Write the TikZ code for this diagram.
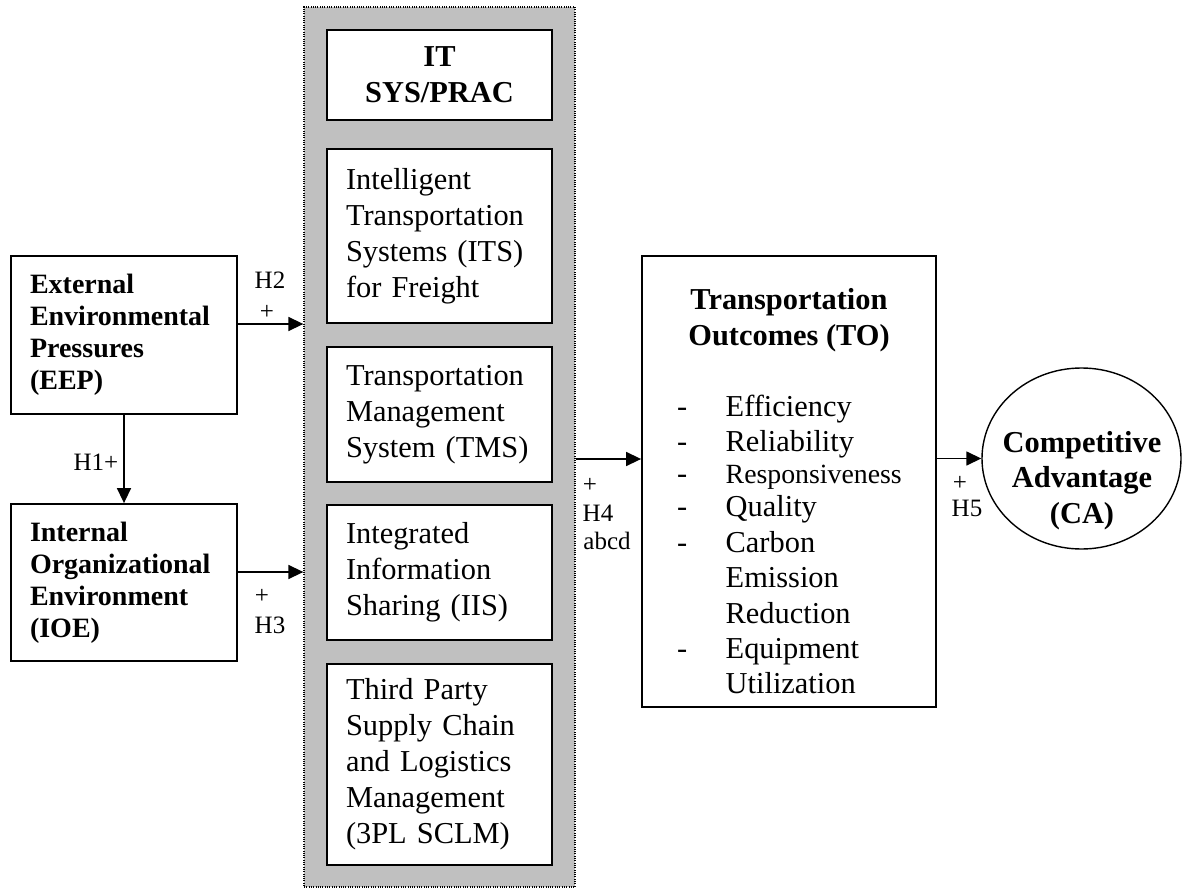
\documentclass[tikz,border=0pt]{standalone}
\usepackage{fontspec}
\setmainfont{Liberation Serif}
\usetikzlibrary{arrows.meta,shapes.geometric}
\definecolor{panelgray}{RGB}{192,192,192}
\begin{document}
\begin{tikzpicture}[x=1pt,y=-1pt,
  box/.style={draw,line width=1.8pt,fill=white,inner sep=0pt},
  hfont/.style={font=\fontsize{28}{32}\selectfont\bfseries},
  tfont/.style={font=\fontsize{30.4}{36}\selectfont},
  bigbold/.style={font=\fontsize{30.4}{36}\selectfont\bfseries},
  lab/.style={font=\fontsize{25}{29}\selectfont,inner sep=0pt,anchor=base},
  item/.style={font=\fontsize{30.4}{35}\selectfont,inner sep=0pt,anchor=base west},
  arr/.style={line width=1.5pt,-{Triangle[length=15pt,width=14pt]}},
]
\useasboundingbox (0,0) rectangle (1183,888);

% grey panel holding the IT systems and practices
\node[draw,fill=panelgray,line width=1.3pt,dash pattern=on 1pt off 1.3pt,
      minimum width=271pt,minimum height=880pt,inner sep=0pt] (panel) at (439.5,447) {};

\node[box,bigbold,minimum width=225pt,minimum height=90pt,text width=187pt,align=center]
  (it) at (439.5,75) {IT\\SYS/PRAC};
\node[box,tfont,minimum width=225pt,minimum height=174pt,text width=187pt,align=left]
  (its) at (439.5,236) {Intelligent\\Transportation\\Systems (ITS)\\for Freight};
\node[box,tfont,minimum width=225pt,minimum height=135pt,text width=187pt,align=left]
  (tms) at (439.5,414.5) {Transportation\\Management\\System (TMS)};
\node[box,tfont,minimum width=225pt,minimum height=135pt,text width=187pt,align=left]
  (iis) at (439.5,572.5) {Integrated\\Information\\Sharing (IIS)};
\node[box,tfont,minimum width=225pt,minimum height=201pt,text width=187pt,align=left]
  (tpl) at (439.5,764.5) {Third Party\\Supply Chain\\and Logistics\\Management\\(3PL SCLM)};

% environment boxes
\node[box,hfont,minimum width=226pt,minimum height=158pt,text width=188pt,align=left]
  (eep) at (124,335) {External\\Environmental\\Pressures\\(EEP)};
\node[box,hfont,minimum width=226pt,minimum height=157pt,text width=188pt,align=left]
  (ioe) at (124,582.5) {Internal\\Organizational\\Environment\\(IOE)};

% outcomes box
\node[box,minimum width=294pt,minimum height=451pt] (to) at (789,481.5) {};
\node[bigbold,anchor=base,inner sep=0pt] (tot1) at (789,309) {Transportation};
\node[bigbold,anchor=base,inner sep=0pt] (tot2) at (789,345) {Outcomes (TO)};

\node[item] (d1) at (677,416) {-};
\node[item] (i1) at (725.5,416) {Efficiency};
\node[item] (d2) at (677,451) {-};
\node[item] (i2) at (725.5,451) {Reliability};
\node[item] (d3) at (677,483) {-};
\node[item,font=\fontsize{27.8}{32}\selectfont] (i3) at (725.5,483) {Responsiveness};
\node[item] (d4) at (677,516) {-};
\node[item] (i4) at (725.5,516) {Quality};
\node[item] (d5) at (677,552) {-};
\node[item] (i5) at (725.5,552) {Carbon};
\node[item] (i6) at (725.5,587) {Emission};
\node[item] (i7) at (725.5,623) {Reduction};
\node[item] (d8) at (677,658) {-};
\node[item] (i8) at (725.5,658) {Equipment};
\node[item] (i9) at (725.5,693) {Utilization};

% competitive advantage
\node[draw,ellipse,line width=1.4pt,minimum width=199pt,minimum height=181pt,inner sep=0pt]
  (ca) at (1081.5,458.5) {};
\node[bigbold,anchor=base,inner sep=0pt] (ca1) at (1082,452) {Competitive};
\node[bigbold,anchor=base,inner sep=0pt] (ca2) at (1082,487) {Advantage};
\node[bigbold,anchor=base,inner sep=0pt] (ca3) at (1082,523) {(CA)};

% hypothesised paths
\draw[arr] ([yshift=11pt]eep.east) -- ([yshift=11pt]eep.east -| panel.west);
\draw[arr] ([yshift=10.5pt]ioe.east) -- ([yshift=10.5pt]ioe.east -| panel.west);
\draw[arr] (eep.south) -- (ioe.north);
\draw[arr] ([yshift=22.5pt]to.west -| panel.east) -- ([yshift=22.5pt]to.west);
\draw[arr] (ca.west -| to.east) -- (ca.west);

% path labels
\node[lab] (h2a) at (270,288) {H2};
\node[lab] (h2b) at (267,319) {+};
\node[lab] (h1) at (96,470) {H1+};
\node[lab] (h3a) at (262,603) {+};
\node[lab] (h3b) at (270,633) {H3};
\node[lab] (h4a) at (590,492) {+};
\node[lab] (h4b) at (598,521) {H4};
\node[lab] (h4c) at (607,549) {abcd};
\node[lab] (h5a) at (960,490) {+};
\node[lab] (h5b) at (967,516) {H5};
\end{tikzpicture}
\end{document}
